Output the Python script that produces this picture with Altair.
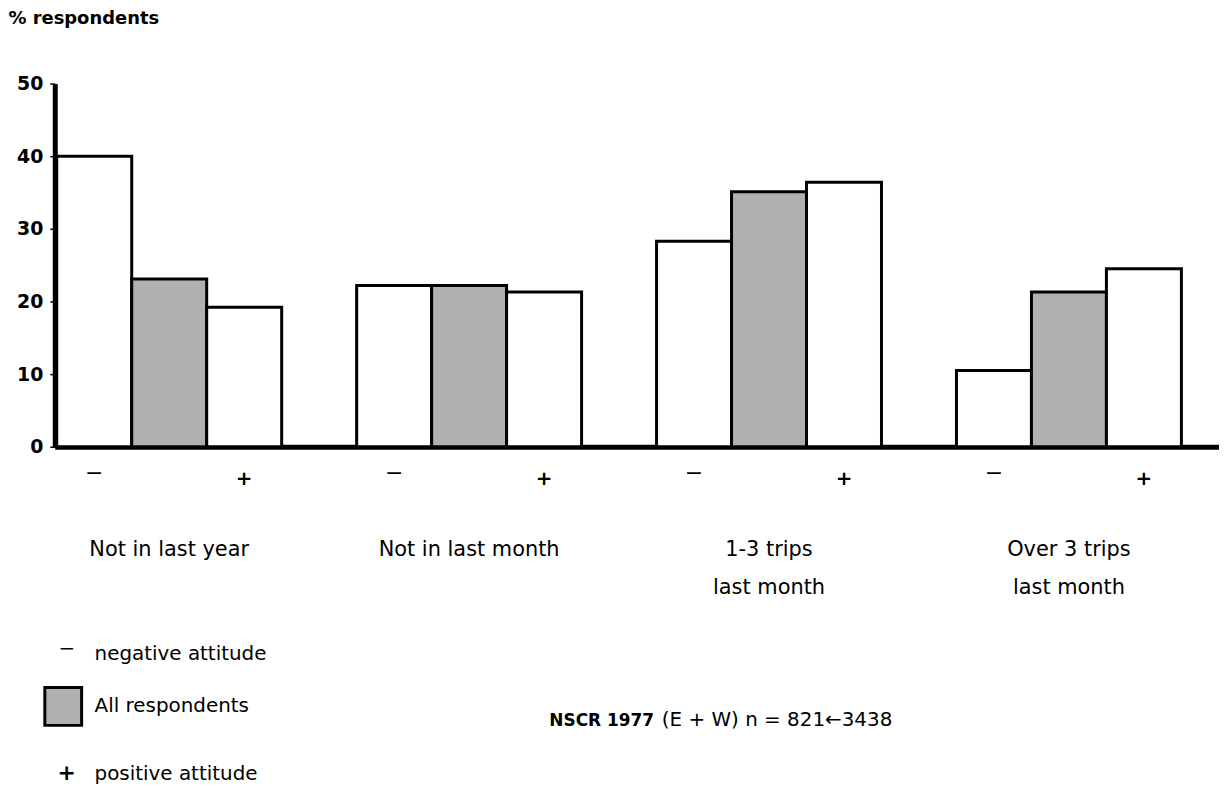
import altair as alt
import pandas as pd

# ---- data ----
groups = ["Not in last year", "Not in last month", "1-3 trips|last month", "Over 3 trips|last month"]
series = ["negative attitude", "All respondents", "positive attitude"]
signs = ["\u2212", "", "+"]
negative = [40.0, 22.2, 28.3, 10.5]
all_resp = [23.1, 22.2, 35.1, 21.3]
positive = [19.2, 21.3, 36.4, 24.5]
y_ticks = [0, 10, 20, 30, 40, 50]
y_title = "% respondents"
note_bold = "NSCR 1977"
note_rest = "(E + W) n = 821\u21903438"

rows = []
for i, g in enumerate(groups):
    for s, sg, vals in zip(series, signs, [negative, all_resp, positive]):
        rows.append({"group": g, "series": s, "sign": sg, "value": vals[i]})
df = pd.DataFrame(rows)

FONT = "DejaVu Sans"
GRAY = "#b0b0b0"
W, H = 1170, 365

x_enc = alt.X(
    "group:N",
    sort=groups,
    scale=alt.Scale(paddingInner=0.25, paddingOuter=0.066, align=0.05),
    axis=alt.Axis(
        title=None,
        labelAngle=0,
        labelExpr="split(datum.label, '|')",
        labelFont=FONT,
        labelFontSize=21,
        labelColor="black",
        labelPadding=92,
        labelLineHeight=38,
        labelBaseline="top",
        labelLimit=0,
        ticks=False,
        tickSize=0,
        domainColor="black",
        domainWidth=5,
    ),
)
xoff = alt.XOffset("series:N", sort=series, scale=alt.Scale(paddingInner=0, paddingOuter=0))

bars = alt.Chart(df).mark_bar(stroke="black", strokeWidth=3).encode(
    x=x_enc,
    xOffset=xoff,
    y=alt.Y(
        "value:Q",
        scale=alt.Scale(domain=[0, 50], nice=False),
        axis=alt.Axis(
            values=y_ticks,
            grid=False,
            domainColor="black",
            domainWidth=5,
            tickColor="black",
            tickSize=5,
            tickWidth=1.5,
            labelFont=FONT,
            labelFontWeight="bold",
            labelFontSize=19,
            labelColor="black",
            labelPadding=7,
            title=y_title,
            titleAngle=0,
            titleAlign="left",
            titleBaseline="middle",
            titleX=-47,
            titleY=-65,
            titleFont=FONT,
            titleFontSize=18,
            titleFontWeight="bold",
            titleColor="black",
        ),
    ),
    fill=alt.Fill("series:N", sort=series,
                  scale=alt.Scale(domain=series, range=["white", GRAY, "white"]),
                  legend=None),
)

neg_signs = alt.Chart(df).transform_filter(
    alt.datum.series == series[0]
).mark_text(font=FONT, fontSize=22, baseline="middle", color="black").encode(
    x=alt.X("group:N", sort=groups), xOffset=alt.XOffset("series:N", sort=series),
    y=alt.value(391), text="sign:N",
)
pos_signs = alt.Chart(df).transform_filter(
    alt.datum.series == series[2]
).mark_text(font=FONT, fontSize=20, fontWeight="bold", baseline="middle", color="black").encode(
    x=alt.X("group:N", sort=groups), xOffset=alt.XOffset("series:N", sort=series),
    y=alt.value(397), text="sign:N",
)

# ---- custom legend (bottom left) ----
leg_df = pd.DataFrame({"label": series, "sign": signs})
leg_y = [573, 626, 694]
legend_layers = []
for i in range(3):
    d = leg_df.iloc[[i]]
    legend_layers.append(
        alt.Chart(d).mark_text(font=FONT, fontSize=20, align="left", baseline="middle", color="black").encode(
            x=alt.value(40), y=alt.value(leg_y[i]), text="label:N"
        )
    )
legend_layers.append(
    alt.Chart(leg_df.iloc[[0]]).mark_text(font=FONT, fontSize=20, align="center", baseline="middle", color="black").encode(
        x=alt.value(12), y=alt.value(568), text="sign:N"
    )
)
legend_layers.append(
    alt.Chart(leg_df.iloc[[2]]).mark_text(font=FONT, fontSize=22, fontWeight="bold", align="center", baseline="middle", color="black").encode(
        x=alt.value(12), y=alt.value(693), text="sign:N"
    )
)
legend_layers.append(
    alt.Chart(leg_df.iloc[[1]]).mark_rect(fill=GRAY, stroke="black", strokeWidth=3).encode(
        x=alt.value(-10), x2=alt.value(27), y=alt.value(607), y2=alt.value(645)
    )
)

note_df = pd.DataFrame({"a": [note_bold], "b": [note_rest]})
note1 = alt.Chart(note_df).mark_text(font=FONT, fontSize=17, fontWeight="bold", align="left", baseline="middle", color="black").encode(
    x=alt.value(497), y=alt.value(641), text="a:N"
)
note2 = alt.Chart(note_df).mark_text(font=FONT, fontSize=20, align="left", baseline="middle", color="black").encode(
    x=alt.value(610), y=alt.value(640), text="b:N"
)

chart = alt.layer(bars, neg_signs, pos_signs, *legend_layers, note1, note2).properties(
    width=W,
    height=H,
    padding={"left": 47, "top": 74, "right": 0, "bottom": 339},
    autosize=alt.AutoSizeParams(type="none"),
    background="white",
).configure_view(stroke=None)

chart.save("out.html", embed_options={"renderer": "svg", "actions": False})
